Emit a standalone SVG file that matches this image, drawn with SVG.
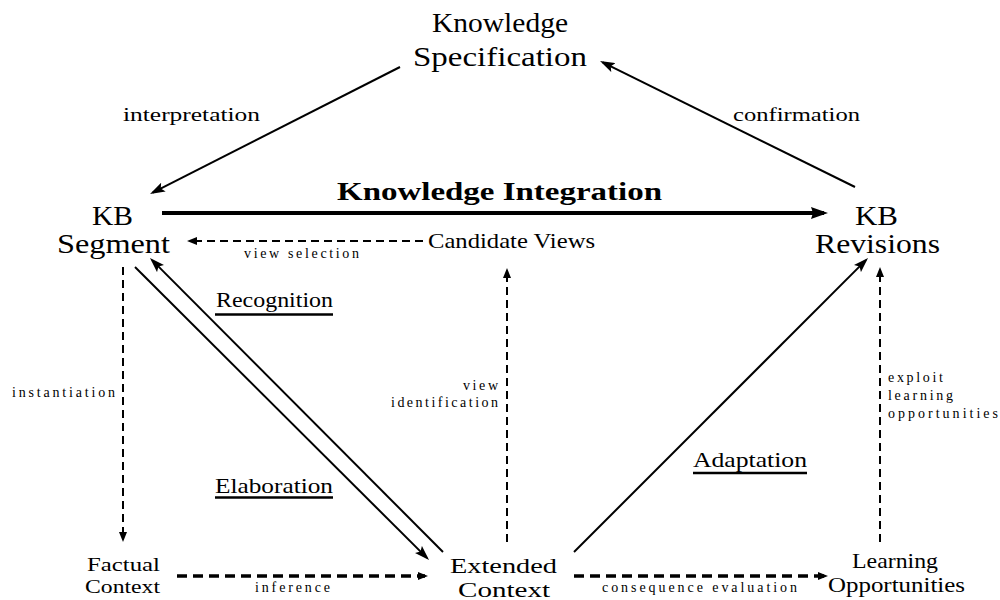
<svg xmlns="http://www.w3.org/2000/svg" width="1000" height="600" viewBox="0 0 1000 600" font-family="'Liberation Serif', 'Times New Roman', Times, 'DejaVu Serif', serif">
  <style>
    text { font-family: "Liberation Serif", "Times New Roman", Times, "DejaVu Serif", serif; fill: #000; }
    .big { font-size: 28px; }
    .mid { font-size: 21px; }
    .mid2 { font-size: 19px; }
    .lbl { font-size: 18px; }
    .sm { font-size: 14px; }
    .title { font-size: 26px; font-weight: bold; }
    .solid { stroke: #000; stroke-width: 2; fill: none; }
    .thick { stroke: #000; stroke-width: 4; fill: none; }
    .dash { stroke: #000; stroke-width: 2; fill: none; stroke-dasharray: 8 5; }
    .dashb { stroke: #000; stroke-width: 3.5; fill: none; stroke-dasharray: 10 6; }
    .ul { stroke: #000; stroke-width: 2.5; }
  </style>
  <defs>
    <marker id="ah" markerUnits="userSpaceOnUse" markerWidth="16" markerHeight="10" refX="12" refY="5" orient="auto">
      <path d="M0,0 L15,5 L0,10 L3,5 z" fill="#000"/>
    </marker>
    <marker id="ahk" markerUnits="userSpaceOnUse" markerWidth="18" markerHeight="12" refX="13" refY="6" orient="auto">
      <path d="M0,0 L17,6 L0,12 L2,6 z" fill="#000"/>
    </marker>
    <marker id="ahs" markerUnits="userSpaceOnUse" markerWidth="10" markerHeight="8" refX="7" refY="4" orient="auto">
      <path d="M0,0 L10,4 L0,8 z" fill="#000"/>
    </marker>
  </defs>

  <!-- connectors -->
  <g id="connectors">
    <line class="solid" x1="400" y1="67" x2="152.7" y2="192.6" marker-end="url(#ah)"/>
    <line class="solid" x1="855" y1="187" x2="602.7" y2="62.3" marker-end="url(#ah)"/>
    <line class="thick" x1="162" y1="213" x2="824" y2="213" marker-end="url(#ahk)"/>
    <line class="dash" x1="423" y1="241" x2="190" y2="241" marker-end="url(#ahs)"/>
    <line class="solid" x1="135" y1="267" x2="426.9" y2="557.9" marker-end="url(#ah)"/>
    <line class="solid" x1="443" y1="552" x2="152.1" y2="260.1" marker-end="url(#ah)"/>
    <line class="solid" x1="574" y1="552" x2="865.9" y2="260.1" marker-end="url(#ah)"/>
    <line class="dash" x1="123" y1="267" x2="123" y2="539" marker-end="url(#ahs)"/>
    <line class="dash" x1="507" y1="542" x2="507" y2="271" marker-end="url(#ahs)"/>
    <line class="dash" x1="880" y1="542" x2="880" y2="270" marker-end="url(#ahs)"/>
    <line class="dashb" x1="177" y1="576" x2="425" y2="576" marker-end="url(#ahs)"/>
    <line class="dashb" x1="574" y1="576" x2="825" y2="576" marker-end="url(#ahs)"/>
  </g>

  <!-- connector labels -->
  <g id="edge-labels">
    <text class="lbl" x="123" y="121" textLength="137" lengthAdjust="spacingAndGlyphs">interpretation</text>
    <text class="lbl" x="733" y="121" textLength="127" lengthAdjust="spacingAndGlyphs">confirmation</text>
    <text class="title" x="337" y="200" textLength="325" lengthAdjust="spacingAndGlyphs">Knowledge Integration</text>
    <text class="sm" x="244" y="258" textLength="115" lengthAdjust="spacing">view selection</text>
    <text class="mid" x="216" y="307" textLength="117" lengthAdjust="spacingAndGlyphs">Recognition</text>
    <line class="ul" x1="215" y1="314.5" x2="333" y2="314.5"/>
    <text class="mid" x="215" y="493" textLength="118" lengthAdjust="spacingAndGlyphs">Elaboration</text>
    <line class="ul" x1="215" y1="497.5" x2="333" y2="497.5"/>
    <text class="mid" x="693" y="467" textLength="114" lengthAdjust="spacingAndGlyphs">Adaptation</text>
    <line class="ul" x1="693" y1="473" x2="807" y2="473"/>
    <text class="sm" x="12" y="397" textLength="103" lengthAdjust="spacing">instantiation</text>
    <text class="sm" x="463" y="390" textLength="35" lengthAdjust="spacing">view</text>
    <text class="sm" x="391" y="407" textLength="107" lengthAdjust="spacing">identification</text>
    <text class="sm" x="888" y="382" textLength="55" lengthAdjust="spacing">exploit</text>
    <text class="sm" x="888" y="400" textLength="65" lengthAdjust="spacing">learning</text>
    <text class="sm" x="888" y="418" textLength="110" lengthAdjust="spacing">opportunities</text>
    <text class="sm" x="255" y="592" textLength="75" lengthAdjust="spacing">inference</text>
    <text class="sm" x="602" y="592" textLength="195" lengthAdjust="spacing">consequence evaluation</text>
  </g>

  <!-- nodes -->
  <g id="knowledge-specification">
    <text class="big" x="432" y="32" textLength="136" lengthAdjust="spacingAndGlyphs">Knowledge</text>
    <text class="big" x="413" y="66" textLength="174" lengthAdjust="spacingAndGlyphs">Specification</text>
  </g>
  <g id="kb-segment">
    <text class="big" x="92" y="225" textLength="41" lengthAdjust="spacingAndGlyphs">KB</text>
    <text class="big" x="57" y="253" textLength="113" lengthAdjust="spacingAndGlyphs">Segment</text>
  </g>
  <g id="kb-revisions">
    <text class="big" x="855" y="225" textLength="43" lengthAdjust="spacingAndGlyphs">KB</text>
    <text class="big" x="815" y="253" textLength="125" lengthAdjust="spacingAndGlyphs">Revisions</text>
  </g>
  <g id="candidate-views">
    <text class="mid" x="428" y="248" textLength="167" lengthAdjust="spacingAndGlyphs">Candidate Views</text>
  </g>
  <g id="factual-context">
    <text class="mid2" x="87" y="571" textLength="73" lengthAdjust="spacingAndGlyphs">Factual</text>
    <text class="mid2" x="85" y="593" textLength="75" lengthAdjust="spacingAndGlyphs">Context</text>
  </g>
  <g id="extended-context">
    <text class="mid" x="450" y="573" textLength="107" lengthAdjust="spacingAndGlyphs">Extended</text>
    <text class="mid" x="458" y="597" textLength="92" lengthAdjust="spacingAndGlyphs">Context</text>
  </g>
  <g id="learning-opportunities">
    <text class="mid" x="852" y="568" textLength="86" lengthAdjust="spacingAndGlyphs">Learning</text>
    <text class="mid" x="828" y="592" textLength="137" lengthAdjust="spacingAndGlyphs">Opportunities</text>
  </g>
</svg>
